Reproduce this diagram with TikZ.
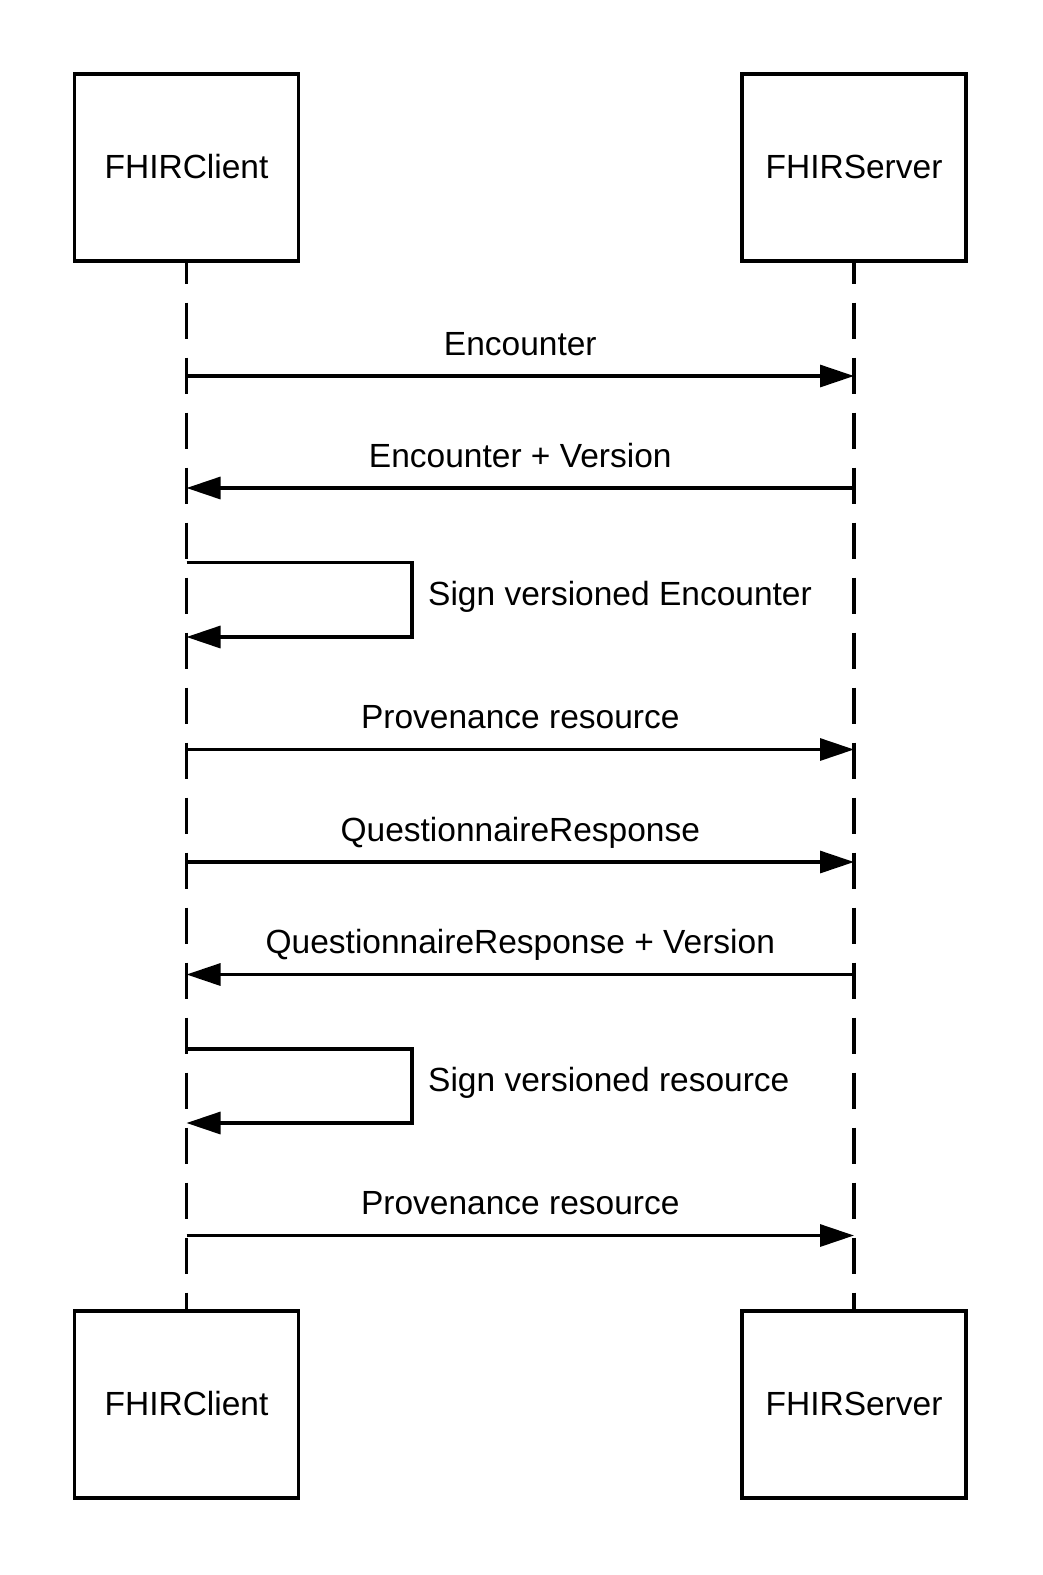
\documentclass[tikz,border=0pt]{standalone}
\usepackage{fontspec}
\setmainfont{Liberation Sans}
\usetikzlibrary{arrows.meta}
\begin{document}
\begin{tikzpicture}[x=1pt,y=-1pt,
  actor/.style={draw,line width=3.2pt,minimum width=224pt,minimum height=187pt,inner sep=0pt,
    font=\fontsize{33.5pt}{40pt}\selectfont},
  lifeline/.style={line width=3.2pt,dash pattern=on 36pt off 19pt,dash phase=15pt},
  msg/.style={line width=3.2pt,-{Triangle[length=34pt,width=22pt]}},
  lbl/.style={inner sep=0pt,anchor=base,font=\fontsize{33.5pt}{40pt}\selectfont}]
\useasboundingbox (0,0) rectangle (1043,1575);
% actors
\node[actor] (c1) at (186.5,167.5) {\raisebox{2pt}{FHIRClient}};
\node[actor] (s1) at (854,167.5) {\raisebox{2pt}{FHIRServer}};
\node[actor] (c2) at (186.5,1404.5) {\raisebox{2pt}{FHIRClient}};
\node[actor] (s2) at (854,1404.5) {\raisebox{2pt}{FHIRServer}};
% lifelines
\draw[lifeline] (c1.south) -- (c2.north);
\draw[lifeline] (s1.south) -- (s2.north);
% message anchor points
\coordinate (c-m1) at (186.5,376);  \coordinate (s-m1) at (854,376);
\coordinate (c-m2) at (186.5,488);  \coordinate (s-m2) at (854,488);
\coordinate (c-l1a) at (186.5,562.5); \coordinate (c-l1b) at (186.5,637);
\coordinate (c-m4) at (186.5,749.5); \coordinate (s-m4) at (854,749.5);
\coordinate (c-m5) at (186.5,862);  \coordinate (s-m5) at (854,862);
\coordinate (c-m6) at (186.5,974.5); \coordinate (s-m6) at (854,974.5);
\coordinate (c-l2a) at (186.5,1049); \coordinate (c-l2b) at (186.5,1123);
\coordinate (c-m8) at (186.5,1235.5); \coordinate (s-m8) at (854,1235.5);
% messages
\draw[msg] (c-m1) -- (s-m1);
\node[lbl] (t1) at (520.3,355) {Encounter};
\draw[msg] (s-m2) -- (c-m2);
\node[lbl] (t2) at (520.3,467) {Encounter + Version};
\draw[msg] (c-l1a) -- (412,562.5) -- (412,637) -- (c-l1b);
\node[lbl,anchor=base west] (t3) at (428,605) {Sign versioned Encounter};
\draw[msg] (c-m4) -- (s-m4);
\node[lbl] (t4) at (520.3,728.5) {Provenance resource};
\draw[msg] (c-m5) -- (s-m5);
\node[lbl] (t5) at (520.3,841) {QuestionnaireResponse};
\draw[msg] (s-m6) -- (c-m6);
\node[lbl] (t6) at (520.3,953.5) {QuestionnaireResponse + Version};
\draw[msg] (c-l2a) -- (412,1049) -- (412,1123) -- (c-l2b);
\node[lbl,anchor=base west] (t7) at (428,1091) {Sign versioned resource};
\draw[msg] (c-m8) -- (s-m8);
\node[lbl] (t8) at (520.3,1214.5) {Provenance resource};
\end{tikzpicture}
\end{document}
